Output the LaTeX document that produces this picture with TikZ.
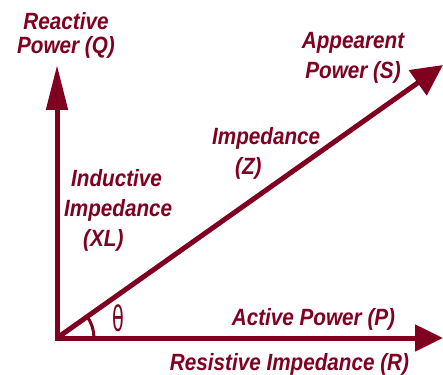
\documentclass[tikz,border=0pt]{standalone}
\usepackage{fontspec}
\usetikzlibrary{arrows.meta}
\newfontfamily\lab[FakeStretch=0.88]{Liberation Sans}
\newfontfamily\thfont{DejaVu Sans}
\definecolor{maroon}{RGB}{128,0,32}
\begin{document}
\begin{tikzpicture}[x=1pt,y=-1pt,
  lbl/.style={text=maroon, font=\lab\bfseries\itshape\fontsize{23.5}{30}\selectfont, inner sep=0pt},
  axis/.style={draw=maroon, line width=5pt, line cap=rect}]
\useasboundingbox (0,0) rectangle (443,374);
\coordinate (O) at (57,338);
\coordinate (Qt) at (57,65);
\coordinate (Pt) at (443,338);
\coordinate (St) at (443,65);
\draw[axis, -{Triangle[length=45pt,width=21pt]}] (O) -- (Qt);
\draw[axis, -{Triangle[length=28pt,width=26pt]}] (O) -- (Pt);
\draw[axis, line cap=butt, -{Triangle[length=31pt,width=30pt]}] (O) -- (St);
\draw[maroon, line width=3pt] (O) ++(37,0) arc[start angle=0, end angle=-35, radius=37];
\node[text=maroon, font=\thfont\fontsize{35}{35}\selectfont, inner sep=0pt] (th) at (118,318) {\scalebox{0.55}[1]{θ}};
\node[lbl, align=center] (Q) at (66,35) {Reactive\\[-6pt]Power (Q)};
\node[lbl, align=center] (S) at (353,58) {Appearent\\Power (S)};
\node[lbl, align=left, anchor=north west] (Z) at (212,127) {Impedance\\\hspace*{23pt}(Z)};
\node[lbl, align=left, anchor=north west] (XL) at (64,169) {\hspace*{7pt}Inductive\\Impedance\\\hspace*{19pt}(XL)};
\node[lbl, anchor=base] (P) at (313.5,325) {Active Power (P)};
\node[lbl, anchor=base] (R) at (289.5,370) {Resistive Impedance (R)};
\end{tikzpicture}
\end{document}
